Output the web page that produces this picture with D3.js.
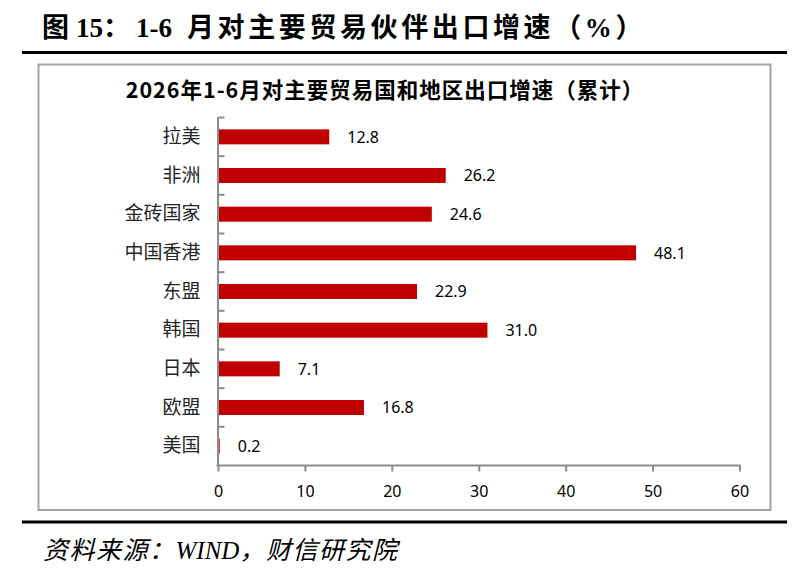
<!DOCTYPE html>
<html>
<head>
<meta charset="utf-8">
<script src="https://cdn.jsdelivr.net/npm/d3@7/dist/d3.min.js"></script>
<style>
  html, body { margin: 0; padding: 0; background: #fff; }
  svg { display: block; }
</style>
</head>
<body>
<svg id="chart" width="798" height="570"></svg>
<script>
// ---- data ----
const categories = ["拉美", "非洲", "金砖国家", "中国香港", "东盟", "韩国", "日本", "欧盟", "美国"];
const values = [12.8, 26.2, 24.6, 48.1, 22.9, 31.0, 7.1, 16.8, 0.2];
const xTicks = [0, 10, 20, 30, 40, 50, 60];
const mainTitle = ["图", "15：", "1-6", "月对主要贸易伙伴出口增速（", "%", "）"];
const chartTitle = "2026年1-6月对主要贸易国和地区出口增速（累计）";
const sourceText = ["资料来源：", "WIND", "，财信研究院"];

const svg = d3.select("#chart");

// ---- header rules ----
svg.append("line").attr("x1", 22).attr("x2", 787).attr("y1", 52.5).attr("y2", 52.5)
  .attr("stroke", "#000").attr("stroke-width", 3);
svg.append("line").attr("x1", 22).attr("x2", 787).attr("y1", 522).attr("y2", 522)
  .attr("stroke", "#000").attr("stroke-width", 3);

// ---- main title ----
const mt = svg.append("text")
  .attr("y", 37.2)
  .style("font-family", "'Liberation Serif', 'Noto Sans CJK SC', serif")
  .style("font-weight", "bold")
  .style("font-size", "27px")
  .attr("fill", "#000");
const mtX = [42, 76, 136, 187, null, null];
mainTitle.forEach((s, i) => {
  const t = mt.append("tspan").text(s);
  if (mtX[i] !== null) t.attr("x", mtX[i]);
  if (i >= 3) t.style("letter-spacing", "3.6px");
});

// ---- chart frame ----
svg.append("rect").attr("x", 38.5).attr("y", 64.5).attr("width", 732).attr("height", 445.5)
  .attr("fill", "#fff").attr("stroke", "#a3a3a3").attr("stroke-width", 2);

// ---- chart title ----
svg.append("text")
  .attr("x", 385).attr("y", 90.7).attr("dy", "0.36em")
  .attr("text-anchor", "middle")
  .style("font-family", "'Noto Sans CJK SC', sans-serif")
  .style("font-weight", "bold")
  .style("font-size", "21.5px")
  .style("letter-spacing", "1px")
  .attr("fill", "#000")
  .text(chartTitle);

// ---- scales ----
const x = d3.scaleLinear().domain([0, 60]).range([218, 739.5]);
const y = d3.scaleBand().domain(categories).range([117.5, 465.5])
  .paddingInner(0.612).paddingOuter(0.306);

const axisColor = "#8c8c8c";

// ---- bars ----
svg.append("g").selectAll("rect").data(categories).join("rect")
  .attr("x", x(0) + 1)
  .attr("y", d => y(d))
  .attr("width", (d, i) => Math.max(0, x(values[i]) - x(0) - 1))
  .attr("height", y.bandwidth())
  .attr("fill", "#c00000");

// ---- value labels ----
svg.append("g").selectAll("text").data(categories).join("text")
  .attr("x", (d, i) => x(values[i]) + 18)
  .attr("y", d => y(d) + y.bandwidth() / 2)
  .attr("dy", "0.36em")
  .style("font-family", "'Noto Sans', sans-serif")
  .style("font-size", "16px")
  .attr("fill", "#000")
  .text((d, i) => values[i].toFixed(1));

// ---- x axis ----
const xAxis = svg.append("g")
  .attr("transform", `translate(0,${465.5})`)
  .call(d3.axisBottom(x).tickValues(xTicks).tickSizeInner(6).tickSizeOuter(0).tickPadding(14)
    .tickFormat(d3.format("d")));
xAxis.select(".domain").attr("stroke", axisColor).attr("stroke-width", 2)
  .attr("d", `M${x(0) - 1.5},0H${x(60) + 1}`);
xAxis.selectAll(".tick line").attr("stroke", axisColor).attr("stroke-width", 2);
xAxis.selectAll(".tick text")
  .style("font-family", "'Noto Sans', sans-serif")
  .style("font-size", "16px")
  .attr("fill", "#000");

// ---- y axis ----
const yAxis = svg.append("g")
  .attr("transform", `translate(${x(0) - 0.5},0)`)
  .call(d3.axisLeft(y).tickSize(0).tickPadding(17));
yAxis.select(".domain").attr("stroke", axisColor).attr("stroke-width", 2);
yAxis.selectAll(".tick text")
  .style("font-family", "'Noto Sans CJK SC', sans-serif")
  .style("font-size", "19px")
  .attr("fill", "#262626");

// category boundary ticks (pointing right, between categories)
const gap = (y.step() - y.bandwidth()) / 2;
const boundaries = categories.map(d => y(d) - gap);
yAxis.append("g").selectAll("line").data(boundaries).join("line")
  .attr("x1", 0).attr("x2", 7)
  .attr("y1", d => d).attr("y2", d => d)
  .attr("stroke", axisColor).attr("stroke-width", 2);

// ---- source ----
const src = svg.append("text")
  .attr("x", 43).attr("y", 559)
  .style("font-family", "'Liberation Serif', 'Noto Sans CJK SC', serif")
  .style("font-style", "italic")
  .style("font-size", "25px")
  .attr("fill", "#000");
sourceText.forEach((s, i) => {
  const t = src.append("tspan").text(s);
  if (i !== 1) t.style("letter-spacing", "1.5px");
});
</script>
</body>
</html>
